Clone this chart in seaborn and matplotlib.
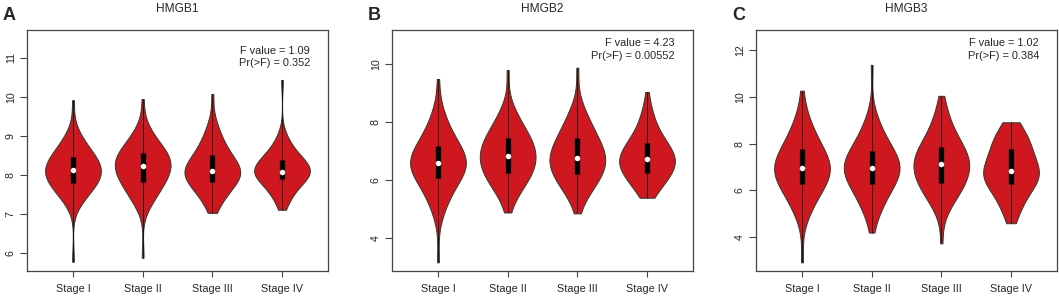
import numpy as np
import pandas as pd
import matplotlib
matplotlib.use("Agg")
import matplotlib.pyplot as plt
import seaborn as sns

sns.set_theme(style="white")
plt.rcParams['font.family'] = ['Liberation Sans', 'DejaVu Sans']

stages = ["Stage I", "Stage II", "Stage III", "Stage IV"]
# percentile values (0,5,10,...,100)
hmgb1 = {
    "Stage I":   [5.77, 7.30, 7.48, 7.60, 7.70, 7.79, 7.86, 7.93, 7.99, 8.05, 8.11, 8.17, 8.24, 8.31, 8.38, 8.46, 8.55, 8.66, 8.80, 9.05, 9.91],
    "Stage II":  [5.87, 7.25, 7.45, 7.58, 7.71, 7.82, 7.91, 7.99, 8.07, 8.15, 8.23, 8.29, 8.35, 8.42, 8.49, 8.56, 8.65, 8.76, 8.92, 9.15, 9.94],
    "Stage III": [7.02, 7.30, 7.45, 7.60, 7.72, 7.82, 7.89, 7.95, 8.01, 8.05, 8.09, 8.15, 8.22, 8.31, 8.40, 8.50, 8.62, 8.76, 8.95, 9.25, 10.07],
    "Stage IV":  [7.10, 7.35, 7.50, 7.65, 7.78, 7.88, 7.94, 7.99, 8.03, 8.06, 8.08, 8.12, 8.18, 8.25, 8.31, 8.38, 8.46, 8.56, 8.70, 8.95, 10.43],
}
hmgb2 = {
    "Stage I":   [3.15, 4.95, 5.35, 5.65, 5.88, 6.07, 6.20, 6.32, 6.42, 6.50, 6.58, 6.67, 6.77, 6.89, 7.02, 7.17, 7.35, 7.55, 7.85, 8.30, 9.48],
    "Stage II":  [4.87, 5.45, 5.72, 5.95, 6.10, 6.22, 6.35, 6.48, 6.60, 6.72, 6.83, 6.94, 7.06, 7.18, 7.31, 7.45, 7.60, 7.78, 8.02, 8.40, 9.79],
    "Stage III": [4.84, 5.45, 5.70, 5.90, 6.06, 6.19, 6.32, 6.45, 6.57, 6.67, 6.76, 6.86, 6.98, 7.12, 7.27, 7.43, 7.60, 7.80, 8.05, 8.45, 9.87],
    "Stage IV":  [5.38, 5.62, 5.82, 5.98, 6.12, 6.25, 6.36, 6.46, 6.55, 6.63, 6.71, 6.80, 6.90, 7.01, 7.13, 7.26, 7.42, 7.62, 7.90, 8.35, 9.03],
}
hmgb3 = {
    "Stage I":   [2.93, 5.00, 5.45, 5.80, 6.05, 6.26, 6.42, 6.58, 6.72, 6.85, 6.96, 7.08, 7.22, 7.38, 7.56, 7.76, 7.98, 8.25, 8.60, 9.15, 10.26],
    "Stage II":  [4.20, 5.05, 5.45, 5.78, 6.05, 6.26, 6.43, 6.60, 6.74, 6.86, 6.97, 7.08, 7.20, 7.35, 7.51, 7.69, 7.90, 8.15, 8.50, 9.05, 11.36],
    "Stage III": [3.74, 5.30, 5.70, 5.95, 6.15, 6.33, 6.50, 6.66, 6.82, 6.97, 7.12, 7.25, 7.38, 7.53, 7.70, 7.87, 8.08, 8.35, 8.75, 9.30, 10.04],
    "Stage IV":  [4.60, 5.05, 5.45, 5.78, 6.05, 6.28, 6.40, 6.52, 6.63, 6.73, 6.83, 6.99, 7.17, 7.36, 7.56, 7.76, 7.97, 8.18, 8.40, 8.65, 8.91],
}
genes = ["HMGB1", "HMGB2", "HMGB3"]
panel_letters = ["A", "B", "C"]
f_values = ["1.09", "4.23", "1.02"]
p_values = ["0.352", "0.00552", "0.384"]
ylims = [(5.53, 11.71), (2.85, 11.17), (2.56, 12.85)]
yticks = [[6, 7, 8, 9, 10, 11], [4, 6, 8, 10], [4, 6, 8, 10, 12]]
stat_y = [0.888, 0.919, 0.919]
datasets = [hmgb1, hmgb2, hmgb3]

# each interior percentile stands for several samples; the extremes for one
interior_weight = 3

fill = "#CE171F"
edge = "#2E3A2E"

fig = plt.figure(figsize=(10.59, 2.97), dpi=100)
lefts = [27 / 1059, 392 / 1059, 756 / 1059]
width = 301 / 1059
bottom = 1 - 271 / 297
height = (271 - 30) / 297

for i in range(3):
    ax = fig.add_axes([lefts[i], bottom, width, height])
    d = datasets[i]
    rows_stage, rows_val = [], []
    for s in stages:
        v = np.asarray(d[s])
        counts = np.full(len(v), interior_weight)
        counts[0] = counts[-1] = 1
        vals = np.repeat(v, counts)
        rows_val.append(vals)
        rows_stage += [s] * len(vals)
    df = pd.DataFrame({"stage": rows_stage, "value": np.concatenate(rows_val)})
    sns.violinplot(data=df, x="stage", y="value", order=stages, color=fill,
                   saturation=1, inner=None, cut=0, density_norm="width",
                   width=0.8, bw_adjust=1.25, linewidth=0.7, linecolor=edge,
                   gridsize=200, ax=ax)
    for j, s in enumerate(stages):
        v = np.array(d[s])
        q1, med, q3 = np.percentile(v, [25, 50, 75])
        ax.vlines(j, v.min(), v.max(), color="#111111", lw=0.6, zorder=3)
        ax.vlines(j, q1, q3, color="black", lw=3.8, zorder=4)
        ax.scatter([j], [med], s=16, color="white", zorder=5, linewidths=0)
    ax.set_xlim(-0.66, 3.66)
    ax.set_ylim(*ylims[i])
    ax.set_yticks(yticks[i])
    ax.set_yticklabels([str(t) for t in yticks[i]], rotation=90, va="center")
    ax.set_xlabel("")
    ax.set_ylabel("")
    ax.tick_params(axis="y", length=5, width=0.8, color="#444444",
                   labelsize=7.7, direction="out", left=True, pad=3)
    ax.tick_params(axis="x", length=4, width=0.8, color="#444444",
                   labelsize=7.8, direction="out", bottom=True, pad=5)
    for sp in ax.spines.values():
        sp.set_color("#444444")
        sp.set_linewidth(0.9)
    ax.set_title(genes[i], fontsize=8.6, pad=13)
    ax.text(0.94, stat_y[i], f"F value = {f_values[i]}\nPr(>F) = {p_values[i]}",
            transform=ax.transAxes, ha="right", va="center", fontsize=7.9,
            linespacing=1.3)
    fig.text(lefts[i] - 24 / 1059, 1 - 20 / 297, panel_letters[i],
             fontsize=13, fontweight="bold", va="baseline", ha="left")

fig.savefig("out.png", dpi=100)
